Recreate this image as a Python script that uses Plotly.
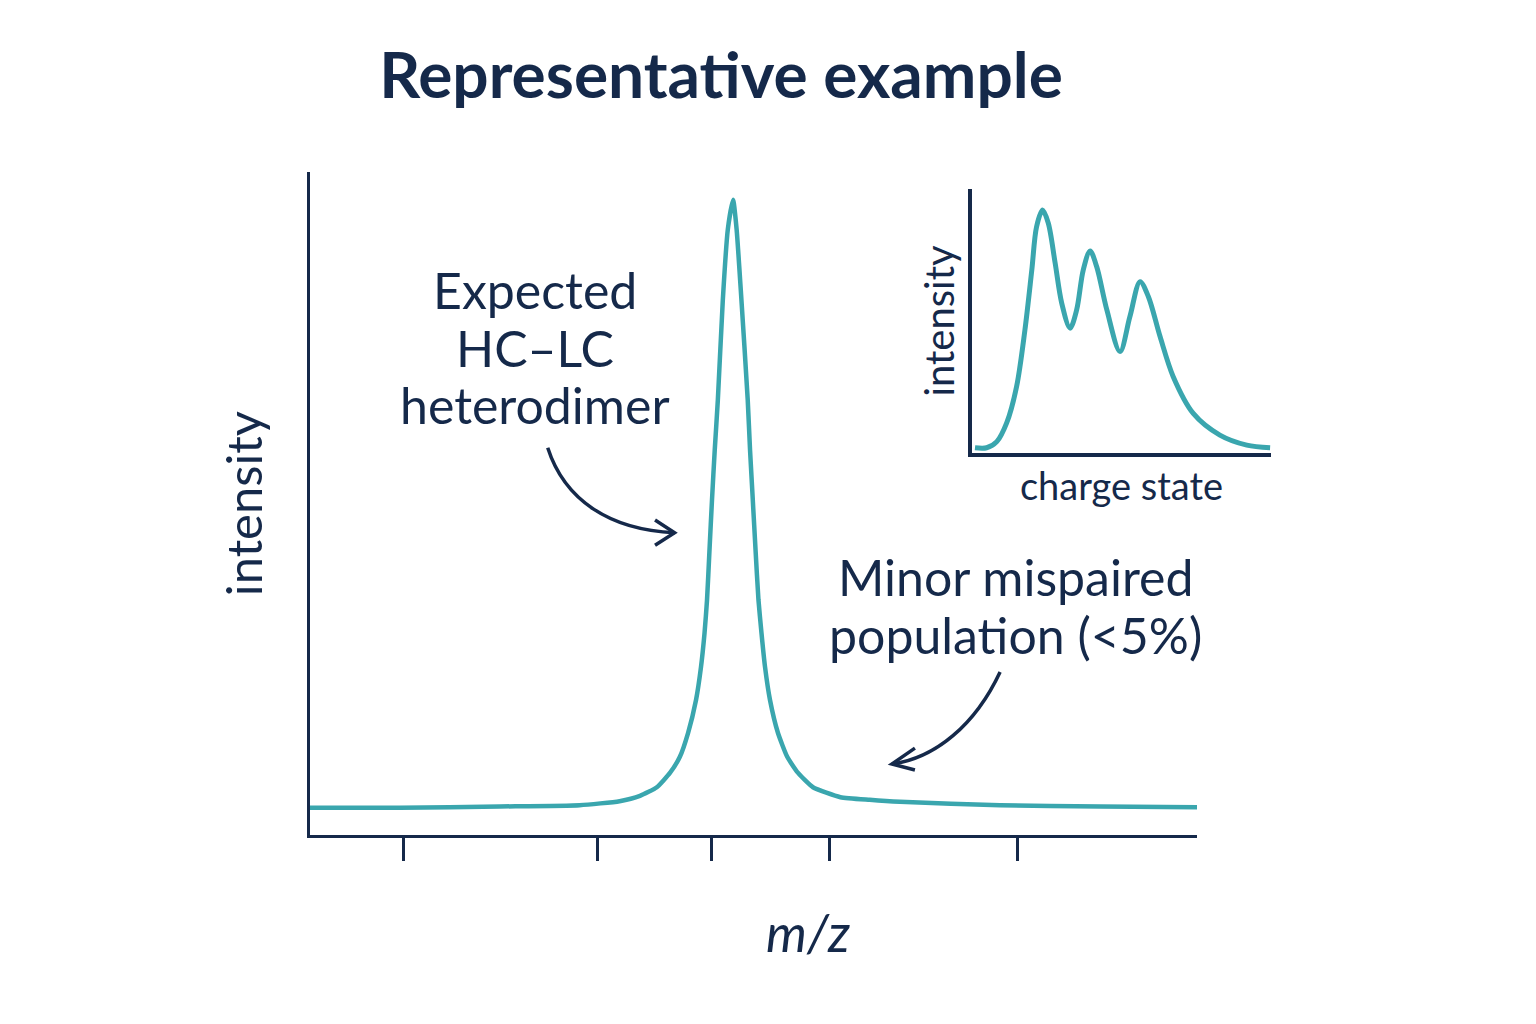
import plotly.graph_objects as go

# main spectrum (arbitrary m/z units, intensity in %)
mz = [0.0, 10.1, 21.4, 30.4, 34.9, 37.2, 39.1, 40.6, 41.7, 42.62, 43.52, 44.08, 44.48,
      44.76, 45.04, 45.32, 45.63, 45.98, 46.54, 47.1, 47.7, 48.1, 48.64, 49.35, 49.61,
      49.92, 50.23, 50.56, 50.9, 51.3, 51.86, 52.76, 53.8, 55.0, 56.7, 59.8, 63.1,
      66.5, 77.8, 89.1, 100.0]
intensity = [4.1, 4.1, 4.3, 4.5, 5.1, 5.9, 7.2, 9.4, 11.8, 15.38, 20.36, 25.34, 30.47,
             35.44, 42.99, 50.53, 58.07, 65.61, 80.69, 91.3, 95.8, 91.3, 80.69, 65.61, 58.07,
             50.53, 42.99, 35.44, 30.47, 25.34, 20.36, 15.38, 11.8, 9.4, 7.2, 5.7, 5.3,
             5.0, 4.5, 4.3, 4.2]
mz_ticks = [10.5, 32.4, 45.3, 58.6, 79.8]

# inset: charge state envelope
charge = [1.0, 4.9, 8.3, 11.6, 14.9, 17.7, 20.0, 21.6, 23.6, 25.5, 27.8, 30.0,
          32.8, 35.0, 37.2, 39.5, 41.7, 45.1, 49.5, 52.8, 56.2, 59.0, 62.9, 67.3,
          74.0, 82.9, 91.9, 99.7]
charge_int = [2.0, 2.0, 4.3, 11.4, 25.1, 46.6, 69.3, 85.7, 92.0, 87.1, 72.0, 56.8,
              47.3, 54.2, 69.3, 76.5, 70.6, 54.2, 38.4, 51.6, 64.9, 59.2, 44.1, 28.9,
              15.0, 6.8, 3.0, 2.0]

navy = "#15294a"
teal = "#3aa6ae"
font = "Lato"
W, H, OFF = 1536, 1024, 8  # page body adds an 8px margin


def px(x):
    return (x - OFF) / W


def py(y):
    return 1 - (y - OFF) / H


fig = go.Figure()
fig.add_trace(go.Scatter(x=mz, y=intensity, mode="lines",
                         line=dict(color=teal, width=4.5, shape="spline", smoothing=0.5),
                         hoverinfo="skip"))
fig.add_trace(go.Scatter(x=charge, y=charge_int, mode="lines", xaxis="x2", yaxis="y2",
                         line=dict(color=teal, width=5, shape="spline", smoothing=0.9),
                         hoverinfo="skip"))

# curved arrows (main axis coordinates)
arrows = [
    "M 26.8 58.4 C 28.7 50.5, 33.8 46.0, 41.1 45.6",
    "M 38.9 47.5 L 41.1 45.6 L 38.9 43.7",
    "M 77.8 24.6 C 75.0 16.6, 70.5 11.6, 65.6 10.7",
    "M 68.2 13.1 L 65.6 10.7 L 68.2 9.8",
]
for p in arrows:
    fig.add_shape(type="path", path=p, xref="x", yref="y",
                  line=dict(color=navy, width=3.5))

labels = [
    ("Expected", 535, 290),
    ("HC\u2013LC", 535, 348),
    ("heterodimer", 535, 405),
    ("Minor mispaired", 1015, 577),
    ("population (<5%)", 1015, 635),
]
for text, x, y in labels:
    fig.add_annotation(text=text, x=px(x), y=py(y), xref="paper", yref="paper",
                       showarrow=False, xanchor="center", yanchor="middle",
                       font=dict(size=50, color=navy, family=font))

# x axis title sits right of centre in the reference
fig.add_annotation(text="<i>m/z</i>", x=px(808), y=py(932), xref="paper", yref="paper",
                   showarrow=False, xanchor="center", yanchor="middle",
                   font=dict(size=52, color=navy, family=font))

fig.update_layout(
    width=W, height=H,
    margin=dict(l=0, r=0, t=0, b=0),
    paper_bgcolor="white", plot_bgcolor="rgba(0,0,0,0)",
    showlegend=False,
    title=dict(text="Representative example", x=px(721), y=py(76),
               xanchor="center", yanchor="middle",
               font=dict(size=64, color=navy, family=font, weight="bold")),
    xaxis=dict(domain=[px(310), px(1197)], range=[0, 100],
               showline=True, linecolor=navy, linewidth=3, showgrid=False,
               zeroline=False, ticks="outside", tickvals=mz_ticks,
               ticklen=23, tickwidth=2.5, tickcolor=navy, showticklabels=False,
               automargin=False),
    yaxis=dict(domain=[py(835), py(172)], range=[0, 100],
               showline=True, linecolor=navy, linewidth=3, showgrid=False,
               zeroline=False, showticklabels=False, ticks="",
               title=dict(text="intensity", standoff=29,
                          font=dict(size=49, color=navy, family=font)),
               automargin=False),
    xaxis2=dict(domain=[px(972), px(1271)], range=[0, 100], anchor="y2",
                showline=True, linecolor=navy, linewidth=4, showgrid=False,
                zeroline=False, showticklabels=False, ticks="",
                title=dict(text="charge state", standoff=18,
                           font=dict(size=38, color=navy, family=font)),
                automargin=False),
    yaxis2=dict(domain=[py(453), py(189)], range=[0, 100], anchor="x2",
                showline=True, linecolor=navy, linewidth=4, showgrid=False,
                zeroline=False, showticklabels=False, ticks="",
                title=dict(text="intensity", standoff=2,
                           font=dict(size=40, color=navy, family=font)),
                automargin=False),
)

fig.write_html("out.html")
